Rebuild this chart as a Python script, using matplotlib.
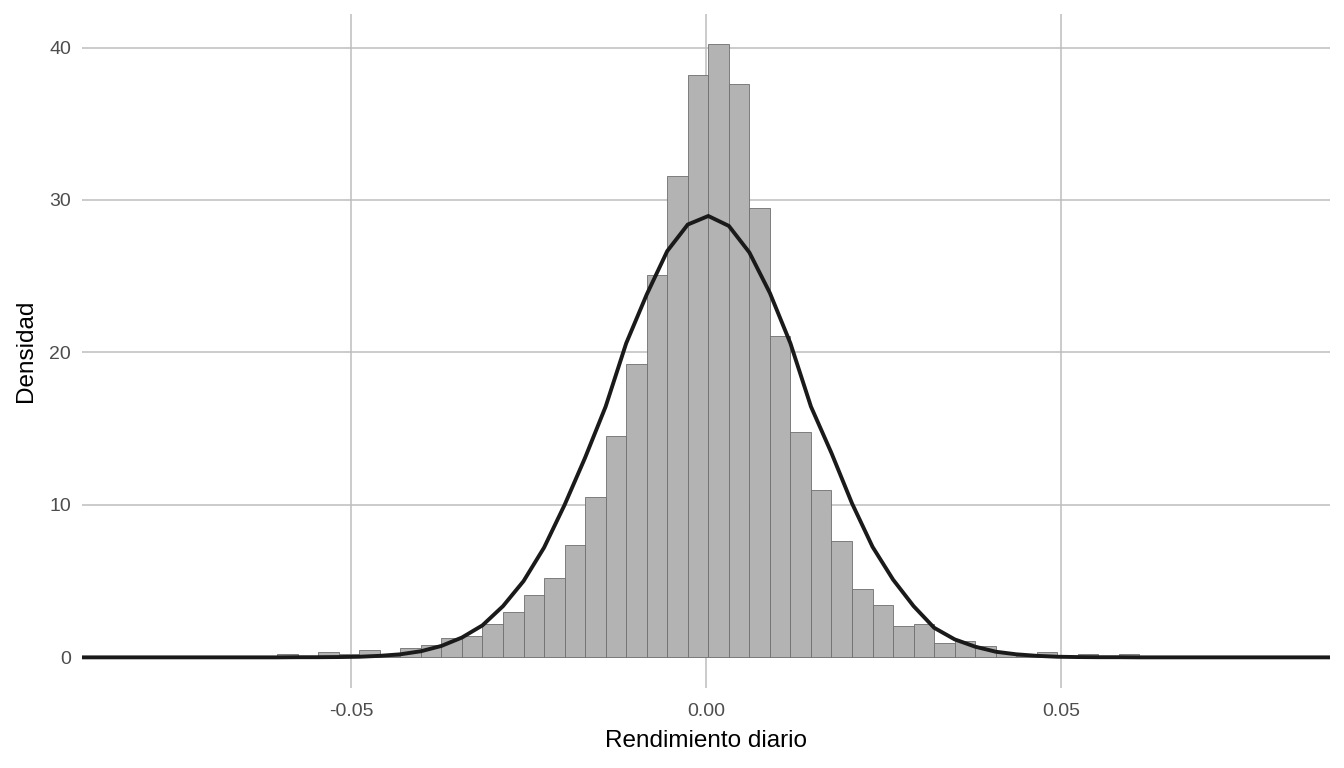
import numpy as np
import matplotlib
matplotlib.use("Agg")
import matplotlib.pyplot as plt

plt.rcParams['font.family'] = ['Liberation Sans', 'DejaVu Sans']

# Histograma de rendimientos diarios (densidad)
binwidth = 0.002892
first_edge = 0.000324 - 21 * binwidth
bar_heights = [0.20, 0.10, 0.33, 0.24, 0.50, 0.10, 0.62, 0.83, 1.29, 1.37,
               2.20, 2.99, 4.12, 5.22, 7.35, 10.52, 14.49, 19.23, 25.05, 31.55,
               38.23, 40.20, 37.64, 29.48, 21.08, 14.78, 10.98, 7.62, 4.47, 3.45,
               2.03, 2.20, 0.96, 1.09, 0.74, 0.30, 0.10, 0.33, 0.07, 0.20,
               0.05, 0.20]

curve_first = 0.000324 - 31 * binwidth
curve_left = [0, 0, 0, 0, 0, 0, 0, 0, 0, 0, 0,
              0.01, 0.01, 0.02, 0.04, 0.10, 0.20, 0.40, 0.75, 1.30, 2.10,
              3.36, 5.00, 7.20, 10.00, 13.10, 16.45, 20.60, 23.80, 26.65, 28.39]
curve_peak = [28.95]
curve_right = [28.30, 26.56, 23.90, 20.60, 16.45, 13.40, 10.10, 7.25, 5.10, 3.36,
               1.94, 1.18, 0.70, 0.37, 0.20, 0.10, 0.04, 0.02, 0.01, 0.01,
               0, 0, 0, 0, 0, 0, 0, 0, 0, 0, 0]
curve_vals = curve_left + curve_peak + curve_right

edges = first_edge + binwidth * np.arange(len(bar_heights))
curve_x = curve_first + binwidth * np.arange(len(curve_vals))

fig = plt.figure(figsize=(13.44, 7.68), dpi=100)
ax = fig.add_axes([82/1344, 1 - 688/768, (1330-82)/1344, (688-14)/768])

ax.bar(edges, bar_heights, width=binwidth, align='edge',
       color='#b3b3b3', edgecolor='#6e6e6e', linewidth=0.6, zorder=2)
ax.plot(curve_x, curve_vals, color='#1a1a1a', linewidth=2.8, zorder=3,
        solid_joinstyle='miter')

ax.set_xlim(-0.0879, 0.0879)
ax.set_ylim(-2.01, 42.2)
ax.set_xticks([-0.05, 0.00, 0.05])
ax.set_xticklabels(["-0.05", "0.00", "0.05"])
ax.set_yticks([0, 10, 20, 30, 40])

ax.grid(True, color='#bdbdbd', linewidth=1.1, zorder=0)
ax.set_axisbelow(True)
for s in ax.spines.values():
	s.set_visible(False)
ax.tick_params(length=0, labelsize=14, colors='#4d4d4d', pad=8)
ax.tick_params(axis='x', pad=11)

ax.set_xlabel("Rendimiento diario", fontsize=17.5, color='black', labelpad=7)
ax.set_ylabel("Densidad", fontsize=17.5, color='black', labelpad=9)

fig.savefig("out.png", dpi=100, facecolor='white')
